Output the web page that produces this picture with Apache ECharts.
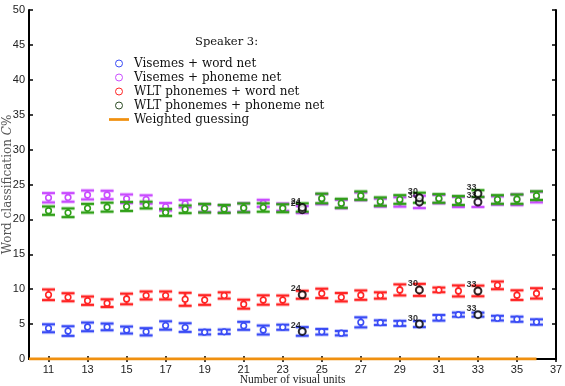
<!DOCTYPE html>
<html><head><meta charset="utf-8">
<script src="https://cdn.jsdelivr.net/npm/echarts@6/dist/echarts.min.js"></script>
<style>html,body{margin:0;padding:0;background:#fff}#c{width:565px;height:386px}</style>
</head><body><div id="c"></div>
<script>
const units = [11,12,13,14,15,16,17,18,19,20,21,22,23,24,25,26,27,28,29,30,31,32,33,34,35,36];
const visWord = [4.4,4.0,4.6,4.6,4.15,3.9,4.8,4.5,3.85,3.9,4.75,4.15,4.55,3.95,3.9,3.7,5.25,5.2,5.1,5.0,5.9,6.35,6.35,5.85,5.7,5.3];
const visWordErr = [0.57,0.69,0.62,0.48,0.5,0.52,0.6,0.62,0.33,0.31,0.57,0.64,0.36,0.62,0.4,0.31,0.72,0.33,0.36,0.43,0.4,0.29,0.29,0.33,0.36,0.38];
const visPhone = [23.1,23.15,23.5,23.5,22.95,22.85,21.8,22.25,21.6,21.5,21.7,22.3,21.75,21.4,22.9,22.2,23.3,22.4,22.5,22.5,22.9,22.5,22.5,22.7,22.8,23.2];
const visPhoneErr = [0.67,0.62,0.64,0.6,0.62,0.6,0.55,0.52,0.55,0.5,0.6,0.5,0.52,0.5,0.72,0.6,0.55,0.57,0.67,0.88,0.6,0.72,0.72,0.6,0.76,0.76];
const wltWord = [9.2,8.85,8.35,8.0,8.6,9.1,9.1,8.55,8.45,9.1,7.85,8.45,8.45,9.2,9.4,8.85,9.15,9.1,9.9,9.9,9.9,9.75,9.75,10.55,9.15,9.4];
const wltWordErr = [0.76,0.57,0.6,0.55,0.76,0.57,0.57,0.93,0.69,0.45,0.64,0.67,0.64,0.57,0.67,0.6,0.67,0.45,0.79,0.86,0.33,0.79,0.76,0.55,0.69,0.74];
const wltPhone = [21.25,20.95,21.6,21.75,21.85,22.05,21.0,21.45,21.6,21.5,21.65,21.7,21.6,21.7,23.0,22.3,23.4,22.55,22.85,23.1,23.0,22.7,23.7,22.85,22.9,23.4];
const wltPhoneErr = [0.6,0.62,0.62,0.64,0.64,0.48,0.5,0.55,0.62,0.57,0.64,0.6,0.57,0.6,0.69,0.64,0.6,0.6,0.62,0.72,0.62,0.64,0.48,0.62,0.67,0.62];
const guessX = [10,36];
const guessY = [0,0];
const marked = [24,30,33];
const xTicks = [11,13,15,17,19,21,23,25,27,29,31,33,35,37];

const names = ['Visemes + word net','Visemes + phoneme net','WLT phonemes + word net','WLT phonemes + phoneme net','Weighted guessing'];
const colors = ['#3a4cf5','#c94cff','#ff2424','#30a018','#f0900f'];
const serif = "'Liberation Serif', 'DejaVu Serif', serif";
const serifW = "'DejaVu Serif', serif";
const sans = "'Liberation Sans', Arial, sans-serif";

function errSeries(name, vals, errs, color){
  return {
    name, type:'custom', z:3,
    itemStyle:{color},
    data: units.map((u,i)=>[u, vals[i], errs[i]]),
    renderItem:function(params, api){
      const x=api.value(0), y=api.value(1), e=api.value(2);
      const p=api.coord([x,y]), hi=api.coord([x,y+e]), lo=api.coord([x,y-e]);
      const w=6.5;
      const lines=[[p[0],hi[1],p[0],lo[1]],[p[0]-w,hi[1],p[0]+w,hi[1]],[p[0]-w,lo[1],p[0]+w,lo[1]]];
      const ch=[];
      lines.forEach(l=>ch.push({type:'line',shape:{x1:l[0],y1:l[1],x2:l[2],y2:l[3]},style:{stroke:color,lineWidth:4,opacity:0.3}}));
      lines.forEach(l=>ch.push({type:'line',shape:{x1:l[0],y1:l[1],x2:l[2],y2:l[3]},style:{stroke:color,lineWidth:2}}));
      ch.push({type:'circle',shape:{cx:p[0],cy:p[1],r:2.8},style:{fill:'#fff',stroke:color,lineWidth:1.6}});
      return {type:'group',children:ch};
    }
  };
}
function markSeries(vals){
  return {
    type:'scatter', z:5, silent:true,
    symbol:'emptyCircle', symbolSize:7,
    itemStyle:{borderColor:'#000',borderWidth:2,color:'#000'},
    label:{show:true,position:[-7,-6],align:'left',verticalAlign:'top',
      formatter:p=>String(p.value[0]),fontFamily:sans,fontWeight:'bold',fontSize:9,color:'#000'},
    data: marked.map(m=>[m, vals[units.indexOf(m)]])
  };
}

const chart = echarts.init(document.getElementById('c'), null, {renderer:'canvas'});
chart.setOption({
  animation:false,
  title:{text:'Speaker 3:',left:190,top:31,textStyle:{fontFamily:serifW,fontSize:11.5,fontWeight:'normal',color:'#111'}},
  legend:{
    orient:'vertical',left:104,top:52,itemWidth:20,itemHeight:7,itemGap:1,
    textStyle:{fontFamily:serifW,fontSize:12,color:'#111',lineHeight:13},
    data:[
      {name:names[0],icon:'circle',itemStyle:{color:'rgba(0,0,0,0)',borderColor:colors[0],borderWidth:1}},
      {name:names[1],icon:'circle',itemStyle:{color:'rgba(0,0,0,0)',borderColor:colors[1],borderWidth:1}},
      {name:names[2],icon:'circle',itemStyle:{color:'rgba(0,0,0,0)',borderColor:colors[2],borderWidth:1}},
      {name:names[3],icon:'circle',itemStyle:{color:'rgba(0,0,0,0)',borderColor:'#2a4a22',borderWidth:1}},
      {name:names[4],icon:'path://M0,0 H22 V3 H0 Z',itemStyle:{color:colors[4],borderWidth:0}}
    ]
  },
  grid:{left:29,right:9,top:10,bottom:27,outerBoundsMode:'none',containLabel:false},
  xAxis:[{
    type:'value',min:10,max:37,position:'bottom',
    name:'Number of visual units',nameLocation:'middle',nameGap:15,nameMoveOverlap:false,
    nameTextStyle:{fontFamily:serif,fontSize:11.5,color:'#222'},
    axisLine:{show:true,lineStyle:{color:'#000',width:2}},
    axisTick:{show:true,inside:true,length:3,customValues:xTicks,lineStyle:{color:'#000',width:1.5}},
    axisLabel:{customValues:xTicks,fontFamily:sans,fontSize:11,color:'#222',margin:5},
    splitLine:{show:false}
  },{
    type:'value',min:10,max:37,position:'top',
    axisLine:{show:true,lineStyle:{color:'#000',width:2}},
    axisTick:{show:true,inside:true,length:3,customValues:xTicks,lineStyle:{color:'#000',width:1.5}},
    axisLabel:{show:false},splitLine:{show:false}
  }],
  yAxis:[{
    type:'value',min:0,max:50,interval:5,position:'left',
    name:'Word classification {i|C}%',nameLocation:'middle',nameGap:15,nameMoveOverlap:false,
    nameTextStyle:{fontFamily:serifW,fontSize:12,color:'#555',rich:{i:{fontFamily:serifW,fontSize:12,fontStyle:'italic',color:'#555'}}},
    axisLine:{show:true,lineStyle:{color:'#000',width:2}},
    axisTick:{show:true,inside:true,length:4,lineStyle:{color:'#000',width:1.5}},
    axisLabel:{fontFamily:sans,fontSize:11,color:'#222',margin:4},
    splitLine:{show:false}
  },{
    type:'value',min:0,max:50,interval:5,position:'right',
    axisLine:{show:true,lineStyle:{color:'#000',width:2}},
    axisTick:{show:true,inside:true,length:4,lineStyle:{color:'#000',width:1.5}},
    axisLabel:{show:false},splitLine:{show:false}
  }],
  series:[
    errSeries(names[0],visWord,visWordErr,colors[0]),
    errSeries(names[1],visPhone,visPhoneErr,colors[1]),
    errSeries(names[2],wltWord,wltWordErr,colors[2]),
    errSeries(names[3],wltPhone,wltPhoneErr,colors[3]),
    {name:names[4],type:'line',z:4,symbol:'none',showSymbol:false,
     lineStyle:{color:colors[4],width:3},itemStyle:{color:colors[4]},
     data:guessX.map((x,i)=>[x,guessY[i]])},
    markSeries(visWord),markSeries(visPhone),markSeries(wltWord),markSeries(wltPhone)
  ]
});
</script></body></html>
